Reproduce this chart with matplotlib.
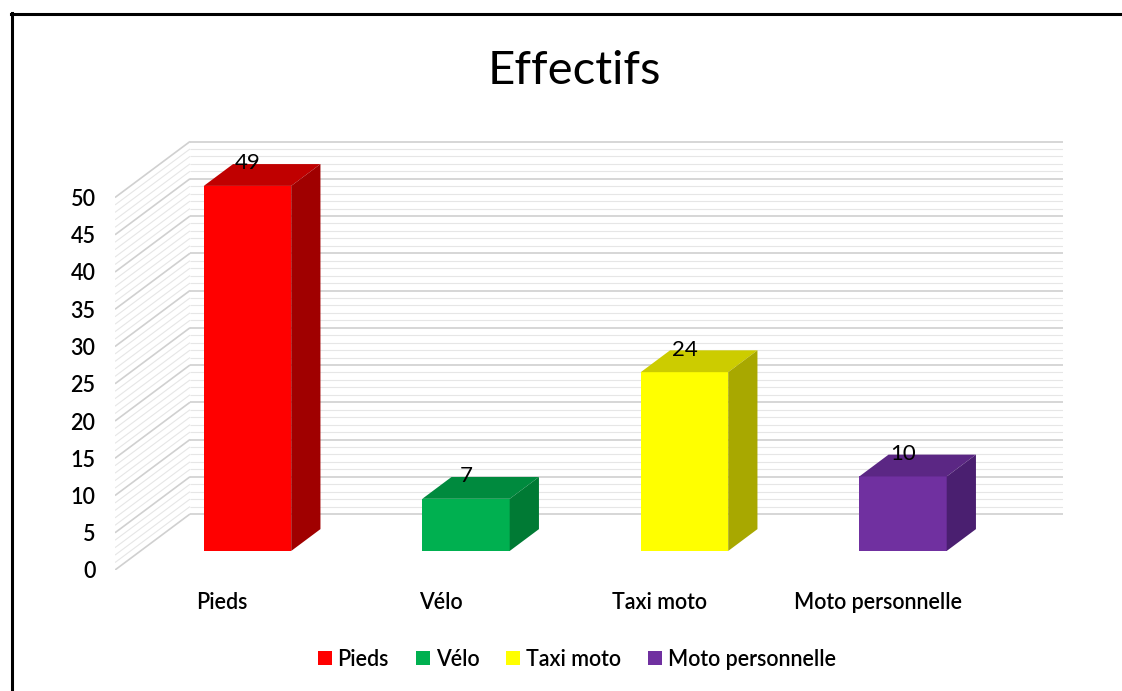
import matplotlib
matplotlib.use("Agg")
import matplotlib.pyplot as plt
from matplotlib.patches import Polygon, Patch
from matplotlib.lines import Line2D

# ---------------- data ----------------
categories = ["Pieds", "Vélo", "Taxi moto", "Moto personnelle"]
values = [49, 7, 24, 10]
front_colors = ["#FF0000", "#00B050", "#FFFF00", "#7030A0"]
top_colors = ["#C00000", "#008A3E", "#CCCC00", "#5B2784"]
side_colors = ["#A00000", "#007A34", "#A8A800", "#4A1F70"]
yticks = list(range(0, 51, 5))
title = "Effectifs"

# ---------------- figure ----------------
W, H = 1122, 691
fig = plt.figure(figsize=(W / 100, H / 100), dpi=100)
FONT = "Lato"
plt.rcParams["font.family"] = [FONT, "DejaVu Sans"]
WT = "semibold"

# axes placement (pixels -> figure fraction)
px_left, px_right, px_bottom, px_top = 115, 1063, 570, 140
ax = fig.add_axes([px_left / W, 1 - px_bottom / H,
                   (px_right - px_left) / W, (px_bottom - px_top) / H])
cat_step = 218.5
cat0 = 222
ppu = 7.45  # pixels per value unit
x0 = (px_left - cat0) / cat_step
x1 = (px_right - cat0) / cat_step
ymax = (px_bottom - px_top) / ppu
ax.set_xlim(x0, x1)
ax.set_ylim(0, ymax)
for s in ax.spines.values():
    s.set_visible(False)

DX = 75 / cat_step   # depth offset in x units
DY = 56 / ppu        # depth offset in value units

vmax = 50
# back wall + side wall gridlines
for v in range(0, vmax + 1):
    major = (v % 5 == 0)
    col = "#D0D0D0" if major else "#E6E6E6"
    lw = 1.2 if major else 0.8
    ax.plot([x0 + DX, x1], [v + DY, v + DY], color=col, lw=lw, zorder=1,
            solid_capstyle="butt")
    ax.plot([x0, x0 + DX], [v, v + DY], color=col, lw=lw, zorder=1,
            solid_capstyle="butt")

# bars
d0, d1 = 0.34, 0.73
hw = 0.2
for i, (v, fc, tc, sc) in enumerate(zip(values, front_colors, top_colors, side_colors)):
    cx = i + d0 * DX
    yb = d0 * DY
    xl, xr = cx - hw, cx + hw
    ddx = (d1 - d0) * DX
    ddy = (d1 - d0) * DY
    front = Polygon([(xl, yb), (xr, yb), (xr, yb + v), (xl, yb + v)],
                    closed=True, fc=fc, ec="none", zorder=3)
    top = Polygon([(xl, yb + v), (xr, yb + v), (xr + ddx, yb + v + ddy),
                   (xl + ddx, yb + v + ddy)], closed=True, fc=tc, ec="none", zorder=3)
    side = Polygon([(xr, yb), (xr + ddx, yb + ddy), (xr + ddx, yb + v + ddy),
                    (xr, yb + v)], closed=True, fc=sc, ec="none", zorder=3)
    for p in (front, top, side):
        ax.add_patch(p)
    ax.text(cx, v + d1 * DY + 0.1, str(v), ha="center", va="center",
            fontsize=16, color="black", zorder=5)

ax.set_yticks(yticks)
ax.set_yticklabels([str(t) for t in yticks], fontsize=15.5, fontweight=WT)
ax.set_xticks(range(len(categories)))
ax.set_xticklabels(categories, fontsize=15.5, fontweight=WT)
ax.tick_params(axis="y", length=0, pad=14)
ax.tick_params(axis="x", length=0, pad=16)

fig.text(574 / W, 1 - 71 / H, title, ha="center", va="center", fontsize=34)

handles = [Patch(facecolor=c, edgecolor="none") for c in front_colors]
fig.legend(handles, categories, loc="center", bbox_to_anchor=(577 / W, 1 - 659 / H),
           ncol=4, frameon=False, prop={"size": 15.5, "weight": WT},
           handlelength=0.65, handleheight=0.65,
           handletextpad=0.28, columnspacing=1.25)

# chart border (top and left)
fig.add_artist(Line2D([11 / W, 1.0], [1 - 14 / H, 1 - 14 / H], color="black", lw=2.2,
                      transform=fig.transFigure))
fig.add_artist(Line2D([12 / W, 12 / W], [1 - 13 / H, 0], color="black", lw=2.2,
                      transform=fig.transFigure))

fig.savefig("out.png", dpi=100)
